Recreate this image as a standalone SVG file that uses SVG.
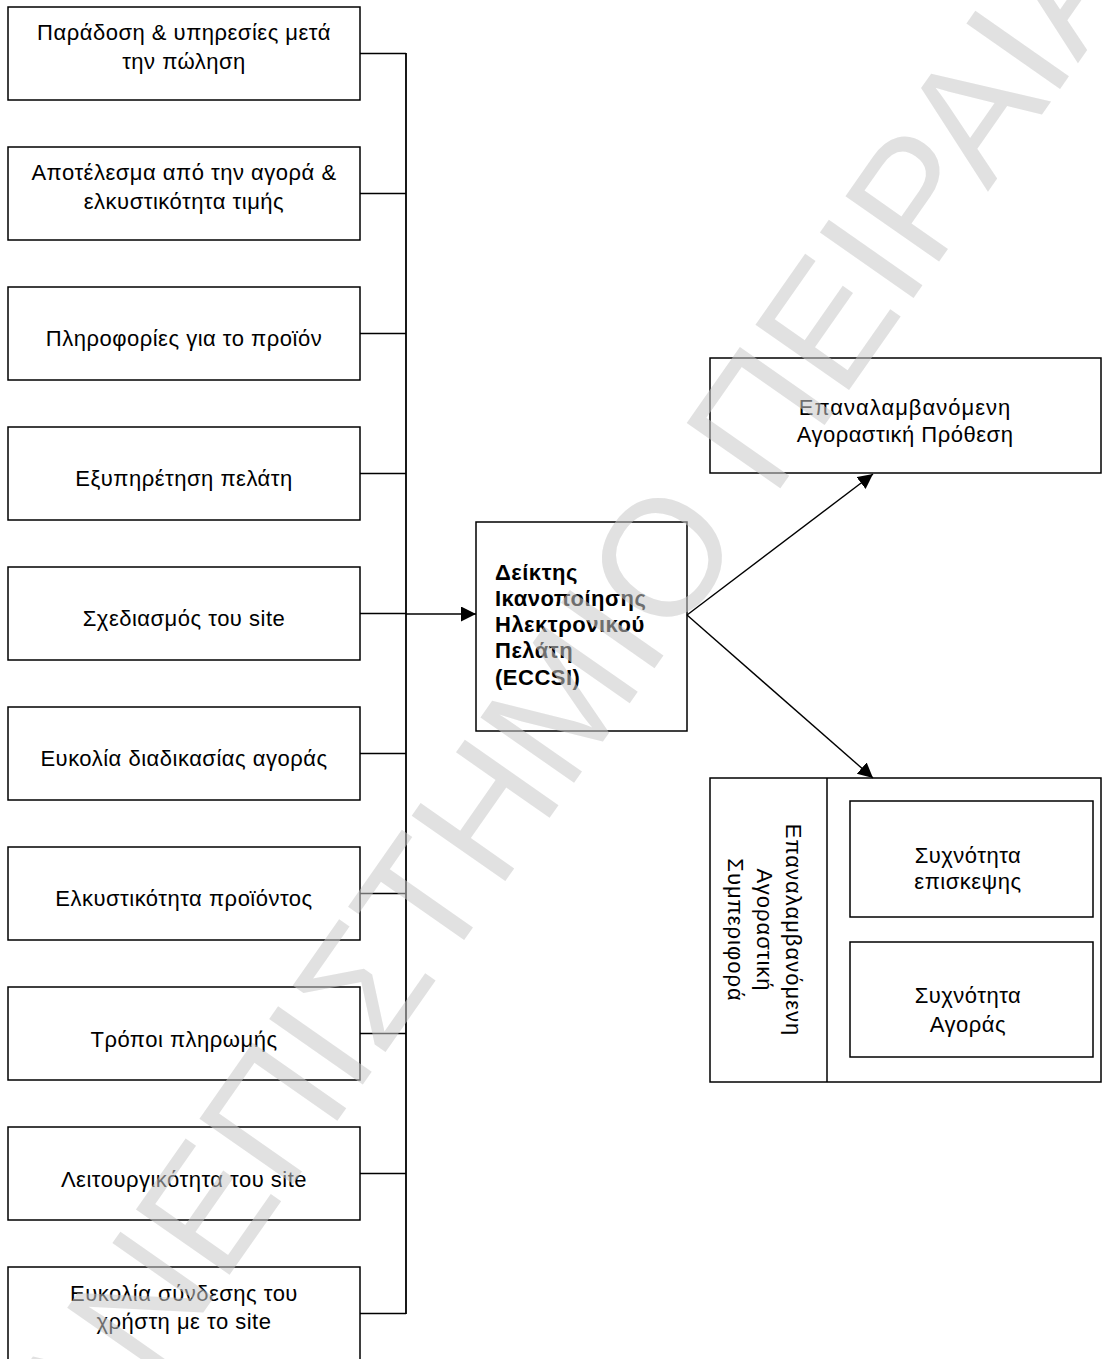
<svg xmlns="http://www.w3.org/2000/svg" width="1102" height="1359" viewBox="0 0 1102 1359">
<style>
.box{fill:#fff;stroke:#000;stroke-width:1.5}
.t{font-family:"Liberation Sans",Arial,sans-serif;font-size:22px;letter-spacing:0.5px;fill:#000;text-anchor:middle}
.w{letter-spacing:1px}
.b{font-family:"Liberation Sans",Arial,sans-serif;font-size:22px;letter-spacing:0.5px;font-weight:bold;fill:#000}
.ln{stroke:#000;stroke-width:1.4;fill:none}
.wm{font-family:"Liberation Sans",Arial,sans-serif;font-size:166px;fill:#c8c8c8;fill-opacity:0.55;text-anchor:middle}
</style>
<defs>
<marker id="ah" markerWidth="16" markerHeight="16" refX="15" refY="7.5" orient="auto" markerUnits="userSpaceOnUse">
<path d="M0,0 L15,7.5 L0,15 Z" fill="#000"/>
</marker>
</defs>
<rect width="1102" height="1359" fill="#fff"/>
<g id="n1"><rect class="box" x="8" y="7" width="352" height="93"/><text class="t" x="184" y="40">Παράδοση &amp; υπηρεσίες μετά</text><text class="t" x="184" y="69">την πώληση</text></g>
<g id="n2"><rect class="box" x="8" y="147" width="352" height="93"/><text class="t" x="184" y="180">Αποτέλεσμα από την αγορά &amp;</text><text class="t" x="184" y="209">ελκυστικότητα τιμής</text></g>
<g id="n3"><rect class="box" x="8" y="287" width="352" height="93"/><text class="t" x="184" y="346">Πληροφορίες για το προϊόν</text></g>
<g id="n4"><rect class="box" x="8" y="427" width="352" height="93"/><text class="t" x="184" y="486">Εξυπηρέτηση πελάτη</text></g>
<g id="n5"><rect class="box" x="8" y="567" width="352" height="93"/><text class="t" x="184" y="626">Σχεδιασμός του site</text></g>
<g id="n6"><rect class="box" x="8" y="707" width="352" height="93"/><text class="t" x="184" y="766">Ευκολία διαδικασίας αγοράς</text></g>
<g id="n7"><rect class="box" x="8" y="847" width="352" height="93"/><text class="t" x="184" y="906">Ελκυστικότητα προϊόντος</text></g>
<g id="n8"><rect class="box" x="8" y="987" width="352" height="93"/><text class="t" x="184" y="1047">Τρόποι πληρωμής</text></g>
<g id="n9"><rect class="box" x="8" y="1127" width="352" height="93"/><text class="t" x="184" y="1187">Λειτουργικότητα του site</text></g>
<g id="n10"><rect class="box" x="8" y="1267" width="352" height="93"/><text class="t" x="184" y="1301">Ευκολία σύνδεσης του</text><text class="t" x="184" y="1329">χρήστη με το site</text></g>
<g id="eccsi"><rect class="box" x="476" y="522" width="211" height="209"/>
<text class="b" x="495" y="580">Δείκτης</text><text class="b" x="495" y="606">Ικανοποίησης</text><text class="b" x="495" y="632">Ηλεκτρονικού</text><text class="b" x="495" y="658">Πελάτη</text><text class="b" x="495" y="685">(ECCSI)</text></g>
<g id="intent"><rect class="box" x="710" y="358" width="391" height="115"/><text class="t w" x="905" y="415">Επαναλαμβανόμενη</text><text class="t" x="905" y="442">Αγοραστική Πρόθεση</text></g>
<g id="behavior"><rect class="box" x="710" y="778" width="391" height="304"/><line class="ln" x1="827" y1="778" x2="827" y2="1082" style="stroke-width:1.5"/>
<text class="t w" transform="translate(786,930) rotate(90)">Επαναλαμβανόμενη</text>
<text class="t w" transform="translate(757,930) rotate(90)">Αγοραστική</text>
<text class="t w" transform="translate(728,930) rotate(90)">Συμπεριφορά</text></g>
<g id="visit"><rect class="box" x="850" y="801" width="243" height="116"/><text class="t" x="968" y="863">Συχνότητα</text><text class="t" x="968" y="889">επισκεψης</text></g>
<g id="purchase"><rect class="box" x="850" y="942" width="243" height="115"/><text class="t" x="968" y="1003">Συχνότητα</text><text class="t" x="968" y="1032">Αγοράς</text></g>
<g id="connectors">
<path class="ln" d="M360,53.5H406M360,193.5H406M360,333.5H406M360,473.5H406M360,613.5H406M360,753.5H406M360,893.5H406M360,1033.5H406M360,1173.5H406M360,1313.5H406"/>
<line class="ln" x1="406" y1="53" x2="406" y2="1314" style="stroke-width:1.8"/>
<line class="ln" x1="406" y1="614" x2="476" y2="614" marker-end="url(#ah)"/>
<line class="ln" x1="687" y1="615" x2="873" y2="474" marker-end="url(#ah)"/>
<line class="ln" x1="687" y1="615" x2="873" y2="778" marker-end="url(#ah)"/>
</g>
<g id="watermark"><text class="wm" transform="translate(581,773) rotate(-55)">ΠΑΝΕΠΙΣΤΗΜΙΟ ΠΕΙΡΑΙΑ</text></g>
</svg>
